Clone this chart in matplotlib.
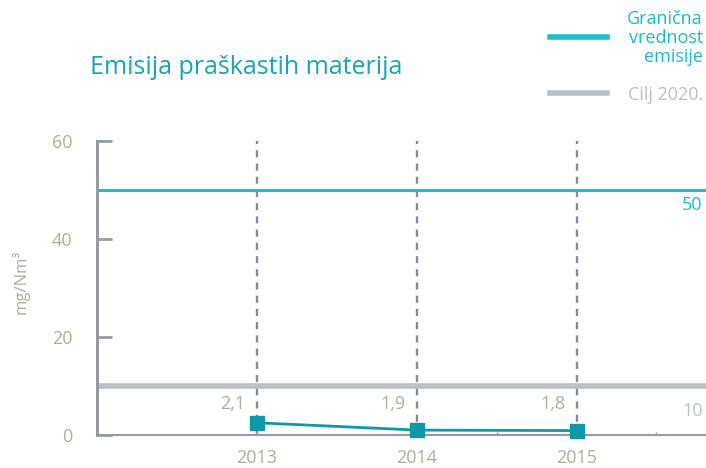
import matplotlib.pyplot as plt

plt.rcParams['font.family'] = ['Open Sans', 'DejaVu Sans']

# podaci
years = [2013, 2014, 2015]
values = [2.5, 1.0, 0.9]          # polozaj tacaka kako je nacrtano
value_labels = ['2,1', '1,9', '1,8']
limit_value = 50
target_value = 10
y_ticks = [0, 20, 40, 60]

teal = '#1cbfca'
dark_teal = '#0e99a6'
light_gray = '#bcc0c4'
axis_gray = '#989aa2'
text_beige = '#b3ab9c'

fig = plt.figure(figsize=(7.06, 4.68), dpi=100)
ax = fig.add_axes([97 / 706, 1 - 435 / 468, 1 - 97 / 706, (435 - 141) / 468])
ax.set_xlim(2012, 2015.81)
ax.set_ylim(0, 60)

for s in ['top', 'right']:
    ax.spines[s].set_visible(False)
ax.spines['left'].set_color(axis_gray)
ax.spines['left'].set_linewidth(2.2)
ax.spines['bottom'].set_color(axis_gray)
ax.spines['bottom'].set_linewidth(1.5)

ax.set_yticks(y_ticks)
ax.set_yticklabels([str(t) for t in y_ticks])
ax.tick_params(axis='y', direction='in', length=11, width=2, color=axis_gray,
               labelcolor=text_beige, labelsize=13, pad=17.5)
ax.set_xticks(years)
ax.set_xticklabels([str(y) for y in years])
ax.tick_params(axis='x', direction='in', length=3, width=1.5, color=axis_gray,
               labelcolor=text_beige, labelsize=13, pad=10)
ax.set_xticks([2014.5, 2015.5], minor=True)
ax.tick_params(axis='x', which='minor', direction='in', length=2, width=1, color=axis_gray)

# vertikalne isprekidane linije
for yr in years:
    ax.axvline(yr, color='#878993', lw=1.7, ls=(0, (3, 2.6)), zorder=1)

# granicna vrednost i cilj
ax.axhline(limit_value, color=teal, lw=2.2, zorder=2)
ax.axhline(target_value, color=light_gray, lw=4, zorder=2)
ax.text(2015.79, limit_value - 1.3, str(limit_value), color=teal, fontsize=13,
        ha='right', va='top')
ax.text(2015.79, target_value - 3.2, str(target_value), color=light_gray, fontsize=13,
        ha='right', va='top')

# serija
ax.plot(years, values, color=dark_teal, lw=2, marker='s', markersize=10,
        zorder=4, clip_on=False)
for yr, lab in zip(years, value_labels):
    ax.text(yr - 0.07, 6.3, lab, color=text_beige, fontsize=13, ha='right', va='center')

fig.text(21 / 706, 1 - 282 / 468, 'mg/Nm³', color=text_beige, fontsize=12,
         rotation=90, ha='center', va='center')

fig.text(90 / 706, 1 - 68 / 468, 'Emisija praškastih materija', color='#1aa5b3',
         fontsize=18, va='center', ha='left')

# legenda
fig.add_artist(plt.Line2D([550 / 706, 607 / 706], [1 - 37 / 468] * 2, color=teal, lw=4))
fig.add_artist(plt.Line2D([550 / 706, 607 / 706], [1 - 93 / 468] * 2, color=light_gray, lw=4))
fig.text(703 / 706, 1 - 38 / 468, 'Granična\nvrednost\nemisije', color='#19bdc6',
         fontsize=13, ha='right', va='center', multialignment='right', linespacing=1.05)
fig.text(703 / 706, 1 - 95 / 468, 'Cilj 2020.', color=light_gray, fontsize=13,
         ha='right', va='center')

fig.savefig('out.png', dpi=100)
